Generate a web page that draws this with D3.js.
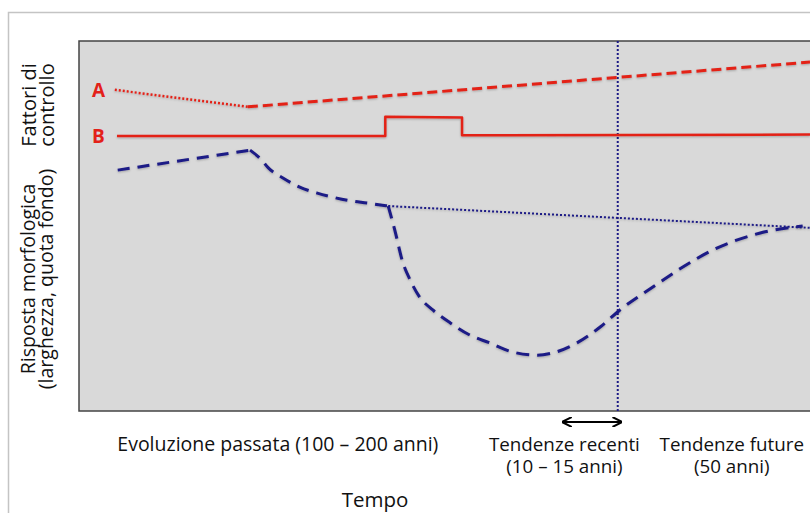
<!DOCTYPE html>
<html>
<head>
<meta charset="utf-8">
<script src="https://cdn.jsdelivr.net/npm/d3@7"></script>
<style>
  body { margin: 0; background: #fff; }
  svg { display: block; font-family: "Open Sans", sans-serif; }
</style>
</head>
<body>
<svg id="chart"></svg>
<script>
// time runs 0..100 across the panel, response 0..100 bottom to top
const seriesA_past = [[4.9, 86.8], [23.1, 82.2]];
const seriesA_trend = [[23.1, 82.2], [100, 94.3]];
const seriesB = [[5.2, 74.3], [41.9, 74.3], [41.9, 79.5], [52.4, 79.3], [52.4, 74.5], [100, 74.7]];
const responseRise = [[5.3, 65.1], [23.4, 70.5]];
const responseDecay = [[23.4, 70.5], [25.0, 67.8], [25.9, 65.7], [27.9, 63.0], [30.2, 60.5],
  [32.6, 58.9], [34.7, 57.8], [37.1, 56.8], [39.4, 56.2], [42.3, 55.4]];
const responseNatural = [[42.3, 55.4], [100, 49.5]];
const responseImpact = [[42.3, 55.4], [43.2, 48.9], [44.2, 40.8], [45.3, 35.4], [46.6, 30.8],
  [48.4, 27.3], [50.8, 23.8], [53.5, 20.5], [56.2, 18.4], [59.4, 15.9], [62.7, 15.1],
  [64.8, 15.7], [68.1, 18.4], [71.3, 22.7], [74.0, 27.3], [78.5, 33.5], [82.6, 38.9],
  [86.7, 43.5], [93.2, 48.1], [99.0, 50.0]];
const presentTime = 73.7;
const recentSpan = [66.2, 74.2];
const seriesLabels = [["A", 86.8], ["B", 74.3]];
const periodLabels = [
  { t: 27.2, lines: ["Evoluzione passata (100 \u2013 200 anni)"] },
  { t: 66.4, lines: ["Tendenze recenti", "(10 \u2013 15 anni)"] },
  { t: 89.3, lines: ["Tendenze future", "(50 anni)"] }
];

const W = 810, H = 513;
const plot = { left: 79, top: 41, right: 812, bottom: 411 };
const red = "#e32119", blue = "#1c1a86";

const svg = d3.select("#chart").attr("width", W).attr("height", H);

const defs = svg.append("defs");
defs.append("marker").attr("id", "arrow")
  .attr("viewBox", "0 0 10 10").attr("refX", 9).attr("refY", 5)
  .attr("markerWidth", 4.5).attr("markerHeight", 4.5).attr("orient", "auto-start-reverse")
  .append("path").attr("d", "M0,0 L10,5 L0,10").attr("fill", "none")
  .attr("stroke", "#000").attr("stroke-width", 2);
const shadow = defs.append("filter").attr("id", "glow")
  .attr("x", "-5%").attr("y", "-20%").attr("width", "110%").attr("height", "140%");
shadow.append("feDropShadow").attr("dx", 0).attr("dy", 1).attr("stdDeviation", 1)
  .attr("flood-color", "#000").attr("flood-opacity", 0.25);

const x = d3.scaleLinear().domain([0, 100]).range([plot.left, 810]);
const y = d3.scaleLinear().domain([0, 100]).range([plot.bottom, plot.top]);

// outer frame
svg.append("path")
  .attr("d", `M8.5,${H} V12.5 H${W}`)
  .attr("fill", "none").attr("stroke", "#c4c4c4").attr("stroke-width", 1.5);

// plot panel
svg.append("rect")
  .attr("x", plot.left).attr("y", plot.top)
  .attr("width", plot.right - plot.left).attr("height", plot.bottom - plot.top)
  .attr("fill", "#d9d9d9").attr("stroke", "#444").attr("stroke-width", 1.5);

const line = d3.line().x(d => x(d[0])).y(d => y(d[1]));
const smooth = d3.line().x(d => x(d[0])).y(d => y(d[1])).curve(d3.curveMonotoneX);

function draw(data, gen, color, width, dash) {
  svg.append("path").datum(data)
    .attr("d", gen)
    .attr("fill", "none")
    .attr("stroke", color)
    .attr("stroke-width", width)
    .attr("stroke-dasharray", dash)
    .attr("stroke-linejoin", "round")
    .attr("filter", "url(#glow)");
}

// present-day marker
svg.append("line")
  .attr("x1", x(presentTime)).attr("x2", x(presentTime))
  .attr("y1", plot.top).attr("y2", plot.bottom)
  .attr("stroke", blue).attr("stroke-width", 2).attr("stroke-dasharray", "2,2");

draw(seriesA_past, line, red, 2.5, "2,2");
draw(seriesA_trend, line, red, 3, "10,5");
draw(seriesB, line, red, 2.5, null);
draw(responseRise, line, blue, 3, "12,8");
draw(responseDecay, smooth, blue, 3, "12,8");
draw(responseNatural, line, blue, 2, "2,2");
draw(responseImpact, smooth, blue, 3, "13,8");

svg.selectAll(".series-label")
  .data(seriesLabels)
  .enter().append("text")
  .attr("class", "series-label")
  .attr("x", 98.5).attr("y", d => y(d[1]))
  .attr("dy", "0.36em")
  .attr("text-anchor", "middle")
  .attr("fill", red).attr("font-weight", "bold").attr("font-size", 19)
  .text(d => d[0]);

// recent-trend span arrow
svg.append("line")
  .attr("x1", x(recentSpan[0])).attr("x2", x(recentSpan[1]))
  .attr("y1", 422).attr("y2", 422)
  .attr("stroke", "#000").attr("stroke-width", 2.2)
  .attr("marker-start", "url(#arrow)").attr("marker-end", "url(#arrow)");

// period labels
const periods = svg.selectAll(".period")
  .data(periodLabels)
  .enter().append("text")
  .attr("class", "period")
  .attr("text-anchor", "middle")
  .attr("font-size", d => d.lines.length > 1 ? 18.8 : 19.5)
  .attr("fill", "#111");
periods.selectAll("tspan")
  .data(d => d.lines.map(l => ({ t: d.t, l })))
  .enter().append("tspan")
  .attr("x", d => x(d.t))
  .attr("y", (d, i) => 451 + i * 22)
  .text(d => d.l);

svg.append("text")
  .attr("x", 375).attr("y", 507)
  .attr("text-anchor", "middle").attr("font-size", 20.5).attr("fill", "#111")
  .text("Tempo");

// rotated y labels
function yLabel(lines, cx, cy, size, gap) {
  const t = svg.append("text")
    .attr("transform", `translate(${cx},${cy}) rotate(-90)`)
    .attr("text-anchor", "middle")
    .attr("font-size", size).attr("fill", "#111");
  t.selectAll("tspan").data(lines).enter().append("tspan")
    .attr("x", 0).attr("y", (d, i) => i * gap)
    .text(d => d);
}
yLabel(["Fattori di", "controllo"], 36, 105, 20, 17.5);
yLabel(["Risposta morfologica", "(larghezza, quota fondo)"], 35, 279, 19.5, 18);
</script>
</body>
</html>
